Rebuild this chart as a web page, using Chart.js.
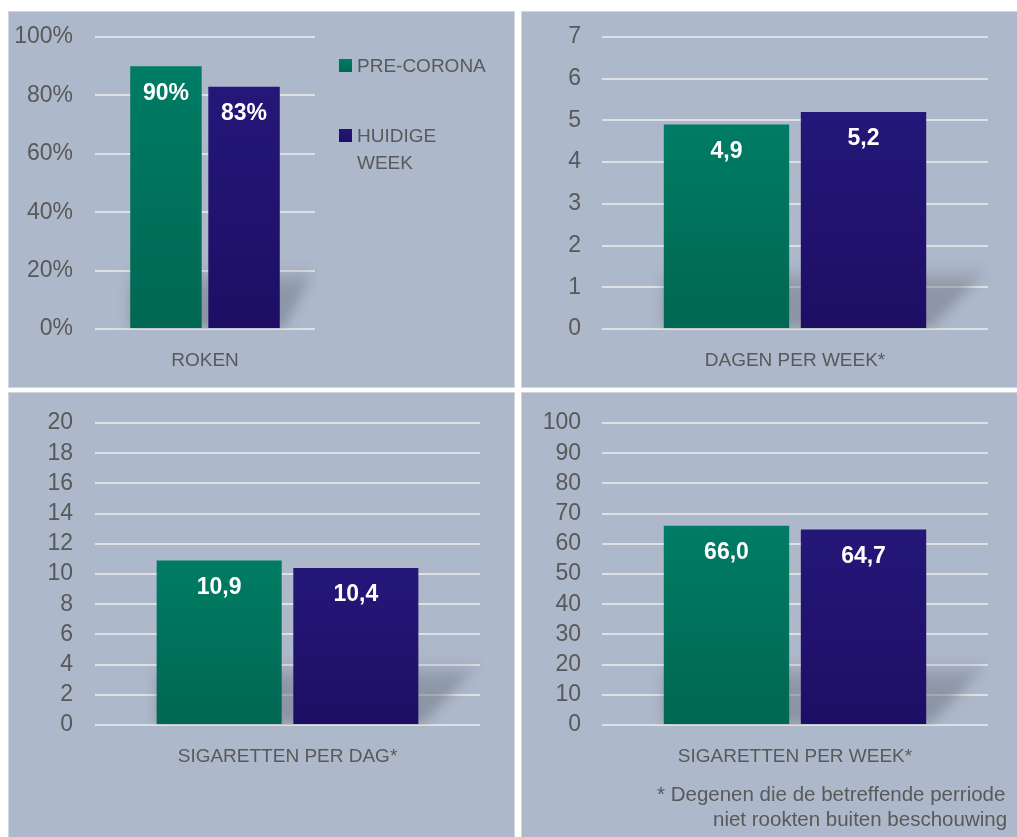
<!DOCTYPE html>
<html>
<head>
<meta charset="utf-8">
<script src="https://cdn.jsdelivr.net/npm/chart.js@4"></script>
<style>
  body { margin: 0; background: #fff; font-family: "Liberation Sans", Arial, sans-serif; }
  #page { position: relative; width: 1017px; height: 837px; overflow: hidden; }
  .panel { position: absolute; box-sizing: border-box; border: 1px solid #d2d5db; background: #adb8ca; overflow: hidden; }
  .panel canvas { position: absolute; left: 0; top: 0; }
  #legend { position: absolute; left: 330px; top: 40px; color: #595959; font-size: 19px; line-height: 27px; }
  #legend .item { position: relative; padding-left: 18px; width: 134px; margin-bottom: 43px; }
  #legend .box { position: absolute; left: 0; top: 7px; width: 13px; height: 13px; }
  #note { position: absolute; color: #595959; font-size: 20.5px; line-height: 25px; white-space: nowrap; }
</style>
</head>
<body>
<div id="page">
  <div class="panel" style="left:8px;top:11px;width:507px;height:377px;">
    <canvas id="c1" width="505" height="375"></canvas>
    <div id="legend"></div>
  </div>
  <div class="panel" style="left:521px;top:11px;width:500px;height:377px;">
    <canvas id="c2" width="496" height="375"></canvas>
  </div>
  <div class="panel" style="left:8px;top:392px;width:507px;height:450px;">
    <canvas id="c3" width="505" height="444"></canvas>
  </div>
  <div class="panel" style="left:521px;top:392px;width:500px;height:450px;">
    <canvas id="c4" width="496" height="444"></canvas>
    <div id="note">
      <div style="margin-left:135px;">* Degenen die de betreffende perriode</div>
      <div style="margin-left:191px;">niet rookten buiten beschouwing</div>
    </div>
  </div>
</div>
<script>
// series
var seriesNames = ['PRE-CORONA', 'HUIDIGE WEEK'];
var seriesTop = ['#007c64', '#251779'];
var seriesBottom = ['#006752', '#1d0e64'];

// panel 1
var rokenLabels = ['ROKEN'];
var rokenPre = [90];
var rokenNow = [83];
// panel 2
var dagenLabels = ['DAGEN PER WEEK*'];
var dagenPre = [4.9];
var dagenNow = [5.2];
// panel 3
var sigDagLabels = ['SIGARETTEN PER DAG*'];
var sigDagPre = [10.9];
var sigDagNow = [10.4];
// panel 4
var sigWeekLabels = ['SIGARETTEN PER WEEK*'];
var sigWeekPre = [66.0];
var sigWeekNow = [64.7];

var FONT = '"Liberation Sans", Arial, sans-serif';

function barFill(i) {
    return function(ctx) {
        var chart = ctx.chart;
        if (!chart.chartArea || ctx.raw == null) return seriesTop[i];
        var y = chart.scales.y;
        var top = y.getPixelForValue(ctx.raw);
        var bottom = y.getPixelForValue(0);
        var g = chart.ctx.createLinearGradient(0, top, 0, bottom);
        g.addColorStop(0, seriesTop[i]);
        g.addColorStop(1, seriesBottom[i]);
        return g;
    };
}

// soft floor shadow behind the bar group
var shadowPlugin = {
    id: 'shadow',
    beforeDatasetsDraw: function(chart) {
        var a = chart.getDatasetMeta(0).data[0];
        var b = chart.getDatasetMeta(1).data[0];
        if (!a || !b) return;
        var area = chart.chartArea;
        var left = a.x - a.width / 2;
        var right = b.x + b.width / 2;
        var bottom = a.base;
        var top = bottom - (area.bottom - area.top) * 0.2;
        var c = chart.ctx;
        c.save();
        c.beginPath();
        c.rect(area.left, area.top, area.right - area.left + 3, area.bottom - area.top);
        c.clip();
        c.filter = 'blur(6px)';
        var g = c.createLinearGradient(0, top, 0, bottom);
        g.addColorStop(0, 'rgba(120,128,142,0.15)');
        g.addColorStop(0.3, 'rgba(110,118,132,0.5)');
        g.addColorStop(1, 'rgba(110,118,132,0.55)');
        c.fillStyle = g;
        c.beginPath();
        c.moveTo(left, top);
        c.lineTo(area.right, top);
        c.lineTo(right + 4, bottom);
        c.lineTo(left, bottom);
        c.closePath();
        c.fill();
        c.restore();
    }
};

var valueLabels = {
    id: 'valueLabels',
    afterDatasetsDraw: function(chart, args, opts) {
        var c = chart.ctx;
        c.save();
        c.fillStyle = '#ffffff';
        c.font = 'bold 23px ' + FONT;
        c.textAlign = 'center';
        c.textBaseline = 'middle';
        chart.data.datasets.forEach(function(ds, i) {
            chart.getDatasetMeta(i).data.forEach(function(el, j) {
                c.fillText(opts.format(ds.data[j]), el.x, el.y + 27);
            });
        });
        c.restore();
    }
};

function makeChart(id, labels, pre, now, box, yMax, yStep, yFmt, valFmt) {
    new Chart(document.getElementById(id), {
        type: 'bar',
        data: {
            labels: labels,
            datasets: [
                { label: seriesNames[0], data: pre, backgroundColor: barFill(0) },
                { label: seriesNames[1], data: now, backgroundColor: barFill(1) }
            ]
        },
        options: {
            responsive: false,
            animation: false,
            categoryPercentage: 0.71,
            barPercentage: 0.915,
            layout: { padding: { left: 0, top: box.top, right: box.right, bottom: 0 } },
            plugins: {
                legend: { display: false },
                tooltip: { enabled: false },
                valueLabels: { format: valFmt }
            },
            scales: {
                x: {
                    grid: { display: false, drawTicks: false },
                    border: { display: false },
                    ticks: { color: '#595959', font: { family: FONT, size: 19 }, padding: 20 },
                    afterFit: function(s) { s.height = box.xh; }
                },
                y: {
                    min: 0,
                    max: yMax,
                    ticks: {
                        stepSize: yStep,
                        autoSkip: false,
                        color: '#595959',
                        padding: box.pad,
                        font: { family: FONT, size: 23 },
                        callback: yFmt
                    },
                    grid: { color: 'rgba(226,226,228,0.95)', lineWidth: 2, drawTicks: false },
                    border: { display: false },
                    afterFit: function(s) {
                        s.width = box.left;
                        s.paddingTop = 0;
                        s.paddingBottom = 0;
                    }
                }
            }
        },
        plugins: [shadowPlugin, valueLabels]
    });
}

function comma1(v) { return v.toFixed(1).replace('.', ','); }

makeChart('c1', rokenLabels, rokenPre, rokenNow,
    { left: 86, top: 25, right: 199, xh: 58, pad: 22 }, 100, 20,
    function(v) { return v + '%'; }, function(v) { return v + '%'; });
makeChart('c2', dagenLabels, dagenPre, dagenNow,
    { left: 80, top: 25, right: 30, xh: 58, pad: 21 }, 7, 1,
    function(v) { return v; }, comma1);
makeChart('c3', sigDagLabels, sigDagPre, sigDagNow,
    { left: 86, top: 30, right: 34, xh: 112, pad: 22 }, 20, 2,
    function(v) { return v; }, comma1);
makeChart('c4', sigWeekLabels, sigWeekPre, sigWeekNow,
    { left: 80, top: 30, right: 30, xh: 112, pad: 21 }, 100, 10,
    function(v) { return v; }, comma1);

// legend from the series
var lg = document.getElementById('legend');
seriesNames.forEach(function(name, i) {
    var item = document.createElement('div');
    item.className = 'item';
    var sq = document.createElement('span');
    sq.className = 'box';
    sq.style.background = 'linear-gradient(' + seriesTop[i] + ',' + seriesBottom[i] + ')';
    item.appendChild(sq);
    item.appendChild(document.createTextNode(name));
    lg.appendChild(item);
});

// footnote below the last chart
var note = document.getElementById('note');
note.style.left = '0px';
note.style.top = (793 - 392 - 13) + 'px';
</script>
</body>
</html>
